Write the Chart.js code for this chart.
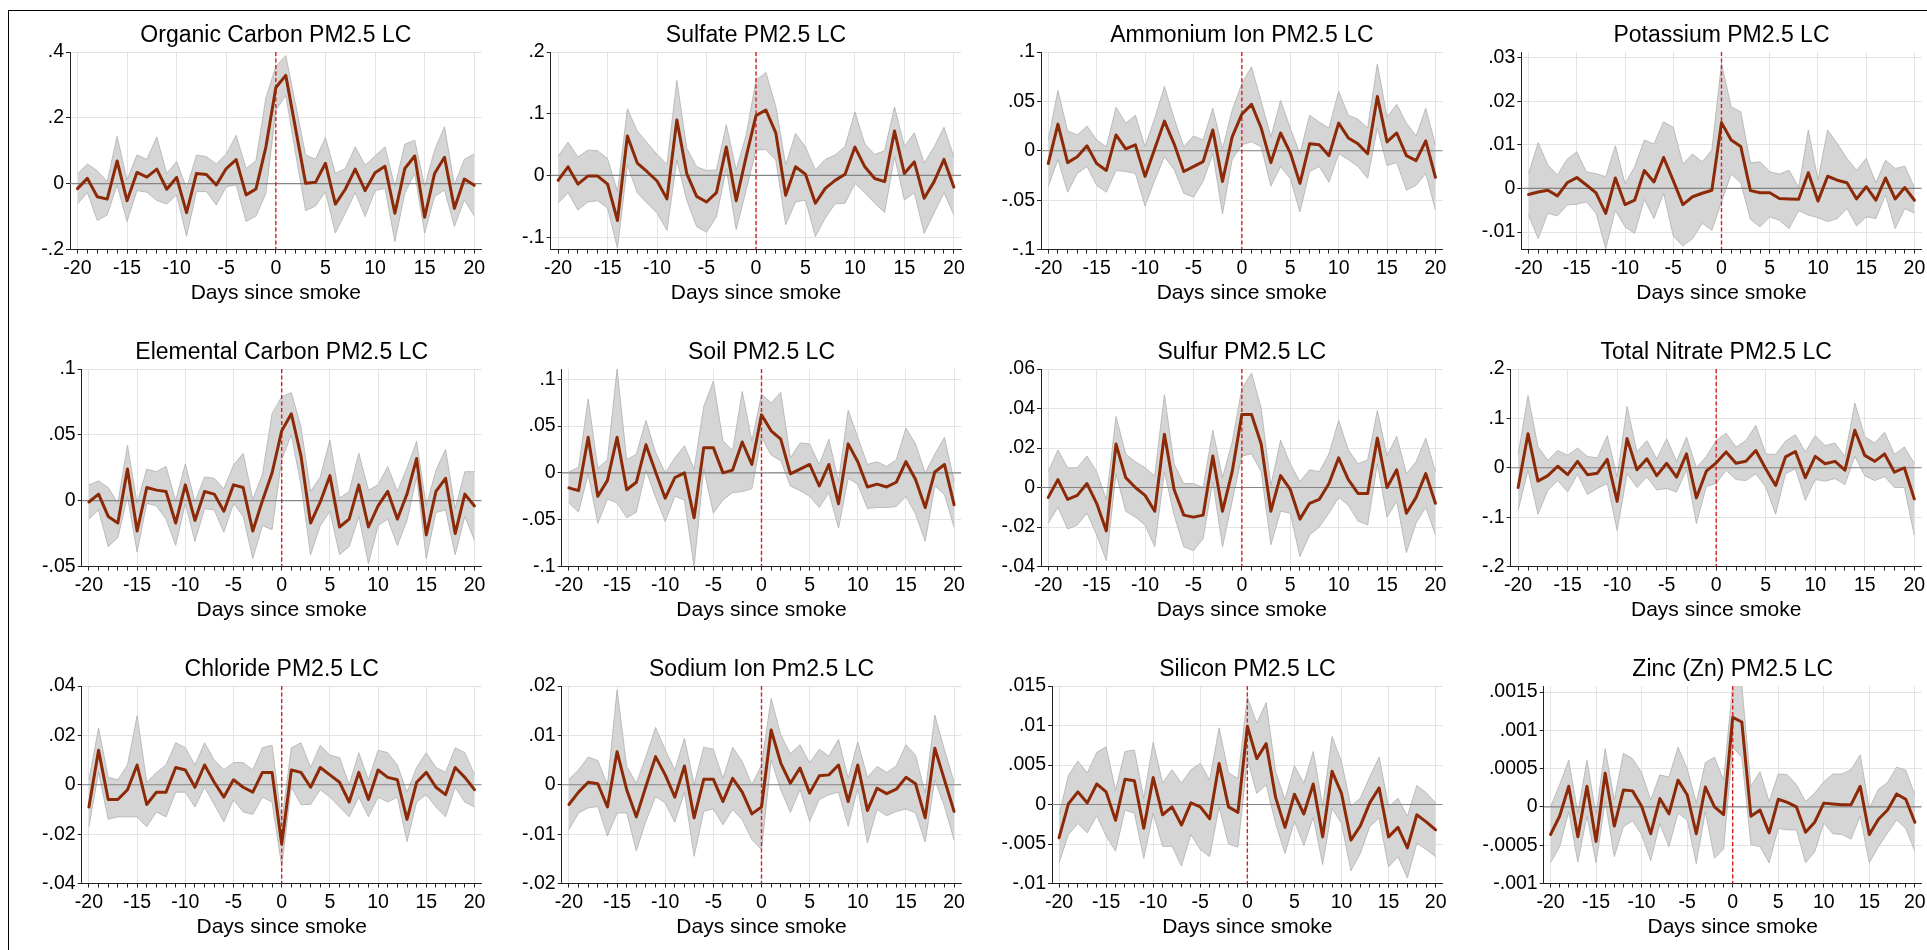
<!DOCTYPE html>
<html><head><meta charset="utf-8">
<script src="https://cdn.jsdelivr.net/npm/chart.js@4.4.0/dist/chart.umd.min.js"></script>
<style>
html,body{margin:0;padding:0;background:#fff;width:1927px;height:950px;overflow:hidden;}
#frame{position:absolute;left:8px;top:10px;width:2000px;height:1000px;border-top:1px solid #000;border-left:1px solid #000;box-sizing:border-box;}
canvas{position:absolute;}
</style></head><body>
<div id="frame"></div>
<script>
// ---------------- DATA ----------------
const days = [-20,-19,-18,-17,-16,-15,-14,-13,-12,-11,-10,-9,-8,-7,-6,-5,-4,-3,-2,-1,0,1,2,3,4,5,6,7,8,9,10,11,12,13,14,15,16,17,18,19,20];
const xLabelValues = [-20,-15,-10,-5,0,5,10,15,20];
const xAxisTitle = 'Days since smoke';
const titles = ['Organic Carbon PM2.5 LC','Sulfate PM2.5 LC','Ammonium Ion PM2.5 LC','Potassium PM2.5 LC',
  'Elemental Carbon PM2.5 LC','Soil PM2.5 LC','Sulfur PM2.5 LC','Total Nitrate PM2.5 LC',
  'Chloride PM2.5 LC','Sodium Ion Pm2.5 LC','Silicon PM2.5 LC','Zinc (Zn) PM2.5 LC'];

const ocEst = [-0.015,0.016,-0.04,-0.047,0.069,-0.052,0.034,0.02,0.044,-0.017,0.019,-0.088,0.031,0.028,-0.004,0.046,0.073,-0.034,-0.016,0.112,0.292,0.329,0.165,0.001,0.004,0.062,-0.062,-0.017,0.044,-0.021,0.033,0.053,-0.09,0.046,0.084,-0.102,0.031,0.08,-0.075,0.014,-0.005];
const ocHi = [0.029,0.06,0.039,0.006,0.144,0.011,0.087,0.074,0.142,0.031,0.067,-0.014,0.087,0.082,0.06,0.09,0.147,0.046,0.07,0.261,0.356,0.389,0.24,0.087,0.074,0.14,0.031,0.046,0.112,0.056,0.084,0.112,-0.009,0.12,0.132,-0.009,0.102,0.173,-0.004,0.074,0.09];
const ocLo = [-0.062,-0.027,-0.112,-0.095,-0.004,-0.115,-0.021,-0.026,-0.051,-0.062,-0.034,-0.16,-0.024,-0.024,-0.065,-0.009,-0.004,-0.115,-0.098,-0.029,0.223,0.268,0.09,-0.082,-0.068,-0.024,-0.15,-0.09,-0.027,-0.1,-0.021,-0.014,-0.176,-0.029,0.031,-0.15,-0.039,-0.019,-0.13,-0.049,-0.098];
const ocYTicks = [-0.2,0,0.2,0.4];
const ocYLabels = ['-.2','0','.2','.4'];

const so4Est = [-0.008,0.014,-0.014,-0.001,-0.001,-0.014,-0.073,0.064,0.02,0.006,-0.009,-0.038,0.09,0.003,-0.034,-0.043,-0.028,0.046,-0.041,0.03,0.097,0.106,0.069,-0.032,0.014,0.002,-0.045,-0.021,-0.008,0.002,0.046,0.014,-0.005,-0.01,0.072,0.003,0.022,-0.037,-0.01,0.026,-0.019];
const so4Hi = [0.031,0.054,0.03,0.041,0.04,0.027,-0.026,0.108,0.072,0.053,0.034,0.018,0.154,0.044,0.014,0.008,0.009,0.082,0.009,0.065,0.154,0.167,0.112,0.017,0.068,0.046,0.009,0.026,0.033,0.047,0.103,0.051,0.034,0.04,0.111,0.047,0.069,0.02,0.046,0.078,0.03];
const so4Lo = [-0.045,-0.028,-0.056,-0.043,-0.041,-0.053,-0.118,0.017,-0.028,-0.045,-0.061,-0.089,0.025,-0.04,-0.083,-0.092,-0.067,0.011,-0.088,-0.024,0.041,0.042,0.025,-0.08,-0.043,-0.04,-0.099,-0.069,-0.046,-0.045,-0.013,-0.028,-0.045,-0.06,0.03,-0.04,-0.028,-0.094,-0.061,-0.028,-0.064];
const so4YTicks = [-0.1,0,0.1,0.2];
const so4YLabels = ['-.1','0','.1','.2'];

const nh4Est = [-0.013,0.027,-0.012,-0.006,0.005,-0.013,-0.02,0.016,0.002,0.006,-0.026,0.002,0.03,0.007,-0.021,-0.016,-0.011,0.021,-0.031,0.014,0.037,0.047,0.023,-0.012,0.018,-0.002,-0.033,0.007,0.006,-0.005,0.028,0.013,0.007,-0.003,0.055,0.009,0.018,-0.005,-0.01,0.01,-0.027];
const nh4Hi = [0.011,0.061,0.02,0.016,0.025,0.011,0.004,0.044,0.028,0.036,0.004,0.033,0.065,0.033,0.004,0.015,0.011,0.043,0.002,0.041,0.068,0.085,0.05,0.014,0.051,0.023,-0.003,0.036,0.029,0.023,0.06,0.036,0.032,0.023,0.088,0.034,0.047,0.028,0.015,0.043,0.006];
const nh4Lo = [-0.036,-0.009,-0.042,-0.023,-0.016,-0.035,-0.042,-0.02,-0.021,-0.023,-0.056,-0.03,-0.006,-0.019,-0.043,-0.047,-0.031,-0.003,-0.064,-0.009,0.006,0.009,0.004,-0.036,-0.016,-0.028,-0.062,-0.021,-0.016,-0.032,-0.003,-0.009,-0.016,-0.028,0.023,-0.015,-0.012,-0.04,-0.035,-0.023,-0.06];
const nh4YTicks = [-0.1,-0.05,0,0.05,0.1];
const nh4YLabels = ['-.1','-.05','0','.05','.1'];

const kEst = [-0.0014,-0.0008,-0.0004,-0.0017,0.0013,0.0025,0.0008,-0.001,-0.0057,0.0024,-0.0037,-0.0027,0.0041,0.0015,0.0071,0.0018,-0.0037,-0.0019,-0.0011,-0.0004,0.0151,0.0111,0.0096,-0.0005,-0.001,-0.001,-0.0023,-0.0024,-0.0025,0.0036,-0.0029,0.0028,0.0019,0.0013,-0.0024,0.0004,-0.0027,0.0024,-0.0024,0.0002,-0.0027];
const kHi = [0.0034,0.0105,0.0054,0.0031,0.0067,0.0084,0.0038,0.0034,0.0027,0.0098,0.0011,0.005,0.0111,0.0102,0.0153,0.014,0.0056,0.0079,0.0061,0.0088,0.0287,0.0187,0.0176,0.0059,0.0061,0.0038,0.0033,0.0042,0.0002,0.0134,0.0019,0.0134,0.0103,0.0069,0.0042,0.0069,0.0013,0.0065,0.0046,0.0051,0.0002];
const kLo = [-0.0061,-0.0115,-0.0057,-0.0063,-0.0038,-0.0036,-0.0031,-0.0057,-0.0138,-0.005,-0.0088,-0.0103,-0.0025,-0.0069,-0.0011,-0.0109,-0.0132,-0.0115,-0.008,-0.0096,-0.0031,0.0033,0.0013,-0.0071,-0.0088,-0.0065,-0.0073,-0.0092,-0.0051,-0.0061,-0.0067,-0.0076,-0.0069,-0.0046,-0.0086,-0.0065,-0.0069,-0.0015,-0.0092,-0.0046,-0.0057];
const kYTicks = [-0.01,0,0.01,0.02,0.03];
const kYLabels = ['-.01','0','.01','.02','.03'];

const ecEst = [-0.001,0.005,-0.012,-0.017,0.024,-0.023,0.01,0.008,0.007,-0.017,0.012,-0.015,0.007,0.005,-0.008,0.012,0.01,-0.023,0.0,0.021,0.053,0.066,0.034,-0.017,-0.001,0.019,-0.02,-0.014,0.012,-0.02,-0.004,0.007,-0.014,0.005,0.032,-0.026,0.007,0.017,-0.025,0.005,-0.004];
const ecHi = [0.012,0.015,0.01,-0.002,0.042,-0.002,0.024,0.022,0.026,0.0,0.028,-0.001,0.018,0.017,0.009,0.027,0.036,0.001,0.02,0.066,0.079,0.082,0.056,0.007,0.018,0.046,0.002,0.007,0.036,0.008,0.012,0.026,0.007,0.025,0.045,-0.004,0.023,0.039,-0.006,0.022,0.022];
const ecLo = [-0.014,-0.007,-0.035,-0.028,0.003,-0.039,-0.002,-0.004,-0.014,-0.034,-0.002,-0.031,-0.006,-0.007,-0.024,-0.002,-0.012,-0.044,-0.019,-0.022,0.031,0.05,0.012,-0.041,-0.019,-0.008,-0.041,-0.035,-0.012,-0.048,-0.019,-0.014,-0.034,-0.015,0.018,-0.044,-0.009,-0.007,-0.041,-0.012,-0.03];
const ecYTicks = [-0.05,0,0.05,0.1];
const ecYLabels = ['-.05','0','.05','.1'];

const soilEst = [-0.016,-0.019,0.038,-0.025,-0.008,0.038,-0.018,-0.01,0.03,0.001,-0.027,-0.005,0.0,-0.048,0.027,0.027,0.0,0.003,0.033,0.009,0.062,0.045,0.036,-0.001,0.004,0.009,-0.014,0.009,-0.033,0.031,0.012,-0.015,-0.012,-0.015,-0.01,0.012,-0.007,-0.037,0.001,0.009,-0.034];
const soilHi = [0.001,0.006,0.079,0.005,0.014,0.111,0.014,0.02,0.056,0.022,0.0,0.016,0.029,0.004,0.071,0.098,0.034,0.024,0.087,0.034,0.084,0.075,0.086,0.016,0.032,0.031,0.009,0.036,-0.009,0.067,0.038,0.009,0.012,0.007,0.014,0.048,0.031,0.0,0.02,0.038,-0.009];
const soilLo = [-0.032,-0.042,-0.001,-0.054,-0.028,-0.032,-0.048,-0.042,0.003,-0.026,-0.052,-0.025,-0.029,-0.1,0.004,-0.043,-0.029,-0.021,-0.02,-0.017,0.038,0.019,0.013,-0.014,-0.019,-0.025,-0.037,-0.021,-0.059,-0.006,-0.012,-0.038,-0.037,-0.037,-0.036,-0.025,-0.044,-0.073,-0.014,-0.023,-0.058];
const soilYTicks = [-0.1,-0.05,0,0.05,0.1];
const soilYLabels = ['-.1','-.05','0','.05','.1'];

const sEst = [-0.005,0.004,-0.006,-0.004,0.002,-0.008,-0.022,0.022,0.005,0.0,-0.004,-0.012,0.027,-0.001,-0.014,-0.015,-0.014,0.016,-0.012,0.008,0.037,0.037,0.022,-0.012,0.006,-0.001,-0.016,-0.008,-0.006,0.002,0.015,0.004,-0.003,-0.003,0.025,0.0,0.009,-0.013,-0.005,0.007,-0.008];
const sHi = [0.008,0.019,0.01,0.01,0.016,0.008,-0.006,0.036,0.017,0.013,0.01,0.006,0.047,0.012,0.002,0.002,0.0,0.029,0.005,0.023,0.05,0.058,0.04,0.001,0.024,0.012,0.003,0.009,0.008,0.017,0.034,0.019,0.012,0.014,0.039,0.016,0.026,0.007,0.013,0.025,0.008];
const sLo = [-0.018,-0.01,-0.021,-0.019,-0.013,-0.024,-0.037,0.007,-0.012,-0.015,-0.019,-0.03,0.008,-0.014,-0.03,-0.032,-0.026,0.003,-0.03,-0.007,0.016,0.017,0.008,-0.029,-0.012,-0.013,-0.035,-0.024,-0.02,-0.013,-0.005,-0.009,-0.017,-0.019,0.012,-0.015,-0.007,-0.033,-0.018,-0.01,-0.024];
const sYTicks = [-0.04,-0.02,0,0.02,0.04,0.06];
const sYLabels = ['-.04','-.02','0','.02','.04','.06'];

const no3Est = [-0.04,0.069,-0.027,-0.016,0.003,-0.014,0.013,-0.014,-0.011,0.017,-0.068,0.059,-0.004,0.018,-0.016,0.009,-0.019,0.028,-0.061,-0.007,0.01,0.032,0.009,0.013,0.035,-0.002,-0.036,0.022,0.033,-0.02,0.023,0.008,0.013,-0.005,0.076,0.025,0.013,0.028,-0.009,0.0,-0.063];
const no3Hi = [0.027,0.146,0.043,0.015,0.035,0.025,0.04,0.023,0.02,0.065,-0.019,0.124,0.032,0.055,0.018,0.059,0.013,0.062,0.0,0.023,0.055,0.07,0.042,0.055,0.086,0.028,0.027,0.054,0.067,0.032,0.065,0.045,0.05,0.023,0.131,0.063,0.05,0.072,0.027,0.042,0.009];
const no3Lo = [-0.086,-0.005,-0.094,-0.046,-0.026,-0.049,-0.013,-0.054,-0.042,-0.032,-0.127,-0.012,-0.04,-0.019,-0.045,-0.042,-0.049,-0.004,-0.113,-0.038,-0.032,-0.005,-0.024,-0.026,-0.012,-0.039,-0.094,-0.012,-0.002,-0.066,-0.024,-0.027,-0.022,-0.034,0.023,-0.016,-0.026,-0.018,-0.04,-0.04,-0.137];
const no3YTicks = [-0.2,-0.1,0,0.1,0.2];
const no3YLabels = ['-.2','-.1','0','.1','.2'];

const clEst = [-0.009,0.014,-0.006,-0.006,-0.002,0.008,-0.008,-0.003,-0.003,0.007,0.006,-0.001,0.008,0.001,-0.005,0.002,-0.001,-0.003,0.005,0.005,-0.024,0.006,0.005,-0.001,0.007,0.004,0.001,-0.007,0.005,-0.006,0.006,0.003,0.002,-0.014,0.001,0.005,-0.001,-0.004,0.007,0.003,-0.002];
const clHi = [0.002,0.023,0.003,0.002,0.008,0.028,0.001,0.005,0.008,0.017,0.015,0.008,0.017,0.01,0.006,0.009,0.009,0.006,0.015,0.016,-0.015,0.015,0.017,0.007,0.016,0.012,0.011,0.0,0.013,0.002,0.014,0.013,0.008,-0.003,0.007,0.013,0.007,0.005,0.015,0.013,0.004];
const clLo = [-0.017,0.005,-0.014,-0.013,-0.013,-0.013,-0.017,-0.011,-0.013,-0.003,-0.003,-0.009,-0.001,-0.008,-0.015,-0.006,-0.011,-0.012,-0.005,-0.007,-0.033,-0.001,-0.008,-0.008,-0.002,-0.005,-0.009,-0.013,-0.005,-0.013,-0.005,-0.007,-0.005,-0.023,-0.007,-0.004,-0.009,-0.013,-0.001,-0.007,-0.009];
const clYTicks = [-0.04,-0.02,0,0.02,0.04];
const clYLabels = ['-.04','-.02','0','.02','.04'];

const naEst = [-0.004,-0.0015,0.0005,0.0002,-0.0045,0.0067,-0.001,-0.0065,-0.0003,0.0057,0.002,-0.0025,0.0038,-0.0067,0.0011,0.0011,-0.0034,0.0013,-0.0015,-0.0059,-0.0045,0.0111,0.0044,0.0003,0.0034,-0.0017,0.0018,0.002,0.004,-0.0034,0.004,-0.0052,-0.0007,-0.0018,-0.0009,0.0015,0.0002,-0.0067,0.0074,0.001,-0.0054];
const naHi = [0.0011,0.003,0.0056,0.0049,0.0,0.0192,0.0037,0.0003,0.0057,0.0116,0.0071,0.003,0.0094,0.0,0.0076,0.0072,0.0013,0.0076,0.0047,0.0,0.004,0.0175,0.0101,0.0063,0.0081,0.0044,0.0072,0.0058,0.0092,0.0013,0.0087,0.0015,0.0037,0.0025,0.0038,0.0081,0.006,-0.0017,0.0141,0.0071,0.0005];
const naLo = [-0.0091,-0.0057,-0.0047,-0.0044,-0.0104,-0.0057,-0.0057,-0.0134,-0.0074,-0.0024,-0.0037,-0.0076,-0.0015,-0.0145,-0.0054,-0.0049,-0.0081,-0.005,-0.0071,-0.0111,-0.0131,0.005,-0.001,-0.0056,-0.001,-0.0074,-0.003,-0.002,-0.0015,-0.0084,-0.0007,-0.0118,-0.005,-0.0063,-0.0054,-0.0049,-0.0057,-0.0116,0.001,-0.0044,-0.0112];
const naYTicks = [-0.02,-0.01,0,0.01,0.02];
const naYLabels = ['-.02','-.01','0','.01','.02'];

const siEst = [-0.0042,0.0001,0.0016,0.0002,0.0026,0.0016,-0.002,0.0032,0.003,-0.003,0.0034,-0.0013,-0.0003,-0.0026,0.0002,-0.0003,-0.0018,0.0052,-0.0003,-0.001,0.0099,0.0058,0.0077,0.0009,-0.0029,0.0013,-0.0012,0.0026,-0.0041,0.0042,0.0014,-0.0045,-0.0027,0.0002,0.0021,-0.0041,-0.0029,-0.0055,-0.0013,-0.0022,-0.0032];
const siHi = [-0.0013,0.0037,0.0055,0.004,0.0066,0.0073,0.0018,0.0067,0.0069,0.0008,0.0079,0.0027,0.0044,0.0027,0.0044,0.0052,0.0031,0.0097,0.004,0.0033,0.0136,0.0103,0.0129,0.0042,0.0006,0.0049,0.0027,0.0067,-0.0002,0.0086,0.0054,-0.0002,0.0008,0.0035,0.006,-0.0003,0.0008,-0.0015,0.0024,0.0015,0.0002];
const siLo = [-0.0074,-0.0038,-0.0024,-0.0036,-0.0014,-0.004,-0.0059,-0.0007,-0.0011,-0.0068,-0.0011,-0.0053,-0.0053,-0.0078,-0.0038,-0.0057,-0.0066,-0.0003,-0.005,-0.0054,0.0057,0.0014,0.0025,-0.0024,-0.0062,-0.0021,-0.0052,-0.0016,-0.0076,-0.0005,-0.0024,-0.0084,-0.0062,-0.0028,-0.0017,-0.0079,-0.0066,-0.0093,-0.0049,-0.0057,-0.0066];
const siYTicks = [-0.01,-0.005,0,0.005,0.01,0.015];
const siYLabels = ['-.01','-.005','0','.005','.01','.015'];

const znEst = [-0.00036,-0.00012,0.00027,-0.00039,0.00027,-0.00045,0.00044,-0.00025,0.00022,0.00021,0.00001,-0.00035,0.00011,-0.00009,0.00035,0.00016,-0.00035,0.00026,0.0,-0.0001,0.00117,0.00111,-0.00012,-0.00004,-0.00034,0.0001,0.00006,0.0,-0.00033,-0.0002,0.00005,0.00004,0.00003,0.00003,0.00027,-0.00036,-0.00016,-0.00004,0.00017,0.0001,-0.0002];
const znHi = [0.0,0.00029,0.00061,-0.00008,0.00061,-0.0001,0.00076,0.00009,0.0007,0.00063,0.00045,0.00009,0.00042,0.00039,0.00078,0.0005,0.00005,0.00058,0.00065,0.00035,0.00159,0.00159,0.00027,0.00046,0.00007,0.00043,0.00042,0.00029,0.00007,0.00018,0.00033,0.00043,0.00043,0.00049,0.00068,-0.00002,0.00023,0.00032,0.00052,0.00048,0.00016];
const znLo = [-0.00073,-0.00052,-0.00006,-0.00072,-0.00012,-0.00073,0.00008,-0.00065,-0.00026,-0.00018,-0.00036,-0.0007,-0.00022,-0.00052,-0.00008,-0.00017,-0.00074,-0.00006,-0.00067,-0.00055,0.00078,0.00065,-0.00049,-0.00052,-0.00073,-0.00028,-0.0003,-0.0003,-0.00073,-0.00059,-0.00021,-0.00035,-0.00036,-0.00042,-0.00012,-0.00073,-0.00052,-0.00034,-0.00017,-0.00028,-0.00058];
const znYTicks = [-0.001,-0.0005,0,0.0005,0.001,0.0015];
const znYLabels = ['-.001','-.0005','0','.0005','.001','.0015'];

// axis limits (y) per panel, in panel order
const yMins = [-0.2,-0.12,-0.1,-0.014,-0.05,-0.1,-0.04,-0.2,-0.04,-0.02,-0.01,-0.001];
const yMaxs = [0.4,0.2,0.1,0.0313,0.1,0.111,0.06,0.2,0.04,0.02,0.015,0.00158];
const xMin = -20.75, xMax = 20.75;

// ---------------- LAYOUT / STYLE ----------------
const COL_LEFT = [0,485,970,1445];
const COL_RIGHT = [494,974,1455,1927];
const PLOT_RIGHT = [481.7,961.3,1442.7,1921.7];
const PLOT_LEFT = [70,550.7,1041,1521.3, 81.7,561.7,1041,1510.7, 81.7,561.7,1052,1543.7];
const ROW_TOP = [0,317,634];
const CANVAS_H = 316;
const PLOT_BOTTOM_REL = 249.5;
const FONT = "'Liberation Sans', Arial, Helvetica, sans-serif";
const TICK_SIZE = 19.5;
const EST_COLOR = '#8c2a08';
const BAND_FILL = '#d5d5d5';
const BAND_EDGE = '#b0b0b0';
const GRID = '#e3e3e3';
const AXIS = '#222';

Chart.defaults.font.family = FONT;
Chart.defaults.color = '#000';

const series = [
  [ocEst, ocLo, ocHi, ocYTicks, ocYLabels],
  [so4Est, so4Lo, so4Hi, so4YTicks, so4YLabels],
  [nh4Est, nh4Lo, nh4Hi, nh4YTicks, nh4YLabels],
  [kEst, kLo, kHi, kYTicks, kYLabels],
  [ecEst, ecLo, ecHi, ecYTicks, ecYLabels],
  [soilEst, soilLo, soilHi, soilYTicks, soilYLabels],
  [sEst, sLo, sHi, sYTicks, sYLabels],
  [no3Est, no3Lo, no3Hi, no3YTicks, no3YLabels],
  [clEst, clLo, clHi, clYTicks, clYLabels],
  [naEst, naLo, naHi, naYTicks, naYLabels],
  [siEst, siLo, siHi, siYTicks, siYLabels],
  [znEst, znLo, znHi, znYTicks, znYLabels]
];

const refLines = {
  id: 'refLines',
  beforeDatasetDraw(chart, args) {
    if (args.index !== 2) return;
    const {ctx, chartArea: a, scales: {x, y}} = chart;
    ctx.save();
    ctx.beginPath(); ctx.rect(a.left, a.top, a.right - a.left, a.bottom - a.top); ctx.clip();
    const y0 = y.getPixelForValue(0);
    ctx.strokeStyle = '#858585'; ctx.lineWidth = 1.2;
    ctx.beginPath(); ctx.moveTo(a.left, y0); ctx.lineTo(a.right, y0); ctx.stroke();
    const x0 = x.getPixelForValue(0);
    ctx.strokeStyle = '#d62020'; ctx.lineWidth = 1.4; ctx.setLineDash([4, 2.5]);
    ctx.beginPath(); ctx.moveTo(x0, a.top); ctx.lineTo(x0, a.bottom); ctx.stroke();
    ctx.restore();
  }
};

const pts = arr => days.map((d, i) => ({x: d, y: arr[i]}));

series.forEach((s, i) => {
  const [est, lo, hi, yTicks, yLabels] = s;
  const col = i % 4, row = Math.floor(i / 4);
  const cv = document.createElement('canvas');
  const w = COL_RIGHT[col] - COL_LEFT[col];
  cv.width = w; cv.height = CANVAS_H;
  cv.style.left = COL_LEFT[col] + 'px';
  cv.style.top = ROW_TOP[row] + 'px';
  cv.style.width = w + 'px'; cv.style.height = CANVAS_H + 'px';
  document.body.appendChild(cv);
  const yW = PLOT_LEFT[i] - COL_LEFT[col];
  const padR = COL_RIGHT[col] - PLOT_RIGHT[col];
  new Chart(cv, {
    type: 'line',
    data: {
      datasets: [
        {data: pts(lo), borderColor: BAND_EDGE, borderWidth: 0.8, pointRadius: 0, fill: false, order: 2, tension: 0},
        {data: pts(hi), borderColor: BAND_EDGE, borderWidth: 0.8, pointRadius: 0, fill: '-1', backgroundColor: BAND_FILL, order: 1, tension: 0},
        {data: pts(est), borderColor: EST_COLOR, borderWidth: 3, pointRadius: 0, fill: false, order: 0, tension: 0, borderJoinStyle: 'round', borderCapStyle: 'round'}
      ]
    },
    options: {
      responsive: false, maintainAspectRatio: false, animation: false, devicePixelRatio: 1,
      events: [],
      layout: {padding: {left: 0, right: padR, top: 0, bottom: 0}},
      plugins: {
        legend: {display: false}, tooltip: {enabled: false},
        filler: {drawTime: 'beforeDatasetsDraw'},
        title: {display: true, text: titles[i], fullSize: false, color: '#000',
          font: {size: 23, weight: 'normal', family: FONT}, padding: {top: 22.2, bottom: 2.2}}
      },
      scales: {
        x: {
          type: 'linear', min: xMin, max: xMax,
          afterBuildTicks: sc => { sc.ticks = days.map(v => ({value: v})); },
          afterFit: sc => { sc.height = CANVAS_H - PLOT_BOTTOM_REL; sc.paddingLeft = 0; sc.paddingRight = 0; },
          ticks: {autoSkip: false, maxRotation: 0, minRotation: 0, padding: 3.3, color: '#000',
            font: {size: TICK_SIZE, family: FONT},
            callback: v => xLabelValues.includes(v) ? String(v) : ''},
          grid: {color: c => (c.tick && xLabelValues.includes(c.tick.value)) ? GRID : 'rgba(0,0,0,0)',
            tickColor: AXIS, tickLength: 4, lineWidth: 1, drawTicks: true},
          border: {display: true, color: AXIS, width: 1},
          title: {display: true, text: xAxisTitle, color: '#000', font: {size: 21, family: FONT},
            padding: {top: 0, bottom: 9.9}}
        },
        y: {
          type: 'linear', min: yMins[i], max: yMaxs[i],
          afterBuildTicks: sc => { sc.ticks = yTicks.map(v => ({value: v})); },
          afterFit: sc => { sc.width = yW; sc.paddingTop = 0; sc.paddingBottom = 0; },
          ticks: {autoSkip: false, padding: 2, color: '#000', font: {size: TICK_SIZE, family: FONT},
            callback: (v, idx) => yLabels[idx]},
          grid: {color: GRID, tickColor: AXIS, tickLength: 4, lineWidth: 1},
          border: {display: true, color: AXIS, width: 1}
        }
      }
    },
    plugins: [refLines]
  });
});
</script>
</body></html>
